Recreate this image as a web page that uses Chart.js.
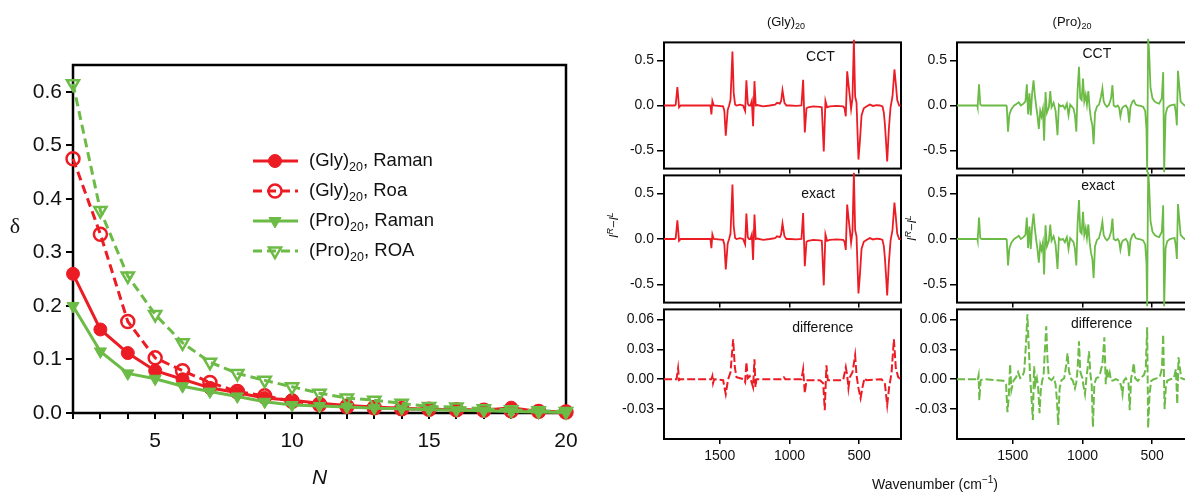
<!DOCTYPE html>
<html>
<head>
<meta charset="utf-8">
<script src="https://cdn.jsdelivr.net/npm/chart.js@4.4.0/dist/chart.umd.min.js"></script>
<style>
  html, body { margin: 0; padding: 0; background: #fff; }
  #page { position: relative; width: 1185px; height: 493px; overflow: hidden; font-family: "Liberation Sans", Arial, sans-serif; color: #111; }
  canvas { position: absolute; }
  .lbl { position: absolute; white-space: nowrap; line-height: 1; }
  .sub { font-size: 9px; vertical-align: -3px; }
</style>
</head>
<body>
<div id="page">
  <canvas id="main" style="left:0;top:0" width="600" height="493"></canvas>
  <canvas id="glyCct" style="left:595px;top:31px" width="320" height="149"></canvas>
  <canvas id="glyExact" style="left:595px;top:164px" width="320" height="150"></canvas>
  <canvas id="glyDiff" style="left:595px;top:298px" width="320" height="195"></canvas>
  <canvas id="proCct" style="left:888px;top:31px" width="320" height="149"></canvas>
  <canvas id="proExact" style="left:888px;top:164px" width="320" height="150"></canvas>
  <canvas id="proDiff" style="left:888px;top:298px" width="320" height="195"></canvas>

  <div class="lbl" style="left:786px;top:15px;transform:translateX(-50%);font-size:13px">(Gly)<span class="sub">20</span></div>
  <div class="lbl" style="left:1072px;top:15px;transform:translateX(-50%);font-size:13px">(Pro)<span class="sub">20</span></div>
  <div class="lbl" style="left:613px;top:225px;transform:translate(-50%,-50%) rotate(-90deg);font-size:12.5px;font-style:italic">I<sup style="font-size:9px">R</sup>&minus;I<sup style="font-size:9px">L</sup></div>
  <div class="lbl" style="left:911px;top:228px;transform:translate(-50%,-50%) rotate(-90deg);font-size:12.5px;font-style:italic">I<sup style="font-size:9px">R</sup>&minus;I<sup style="font-size:9px">L</sup></div>
  <div class="lbl" style="left:935px;top:475px;transform:translateX(-50%);font-size:14px">Wavenumber (cm<sup style="font-size:10px">&minus;1</sup>)</div>
</div>
<script>
// ---- left panel: convergence of delta with N ----
const nValues = [2, 3, 4, 5, 6, 7, 8, 9, 10, 11, 12, 13, 14, 15, 16, 17, 18, 19, 20];
const glyRaman = [0.26, 0.156, 0.112, 0.079, 0.063, 0.047, 0.038, 0.028, 0.024, 0.018, 0.014, 0.011, 0.009, 0.007, 0.006, 0.005, 0.01, 0.003, 0.002];
const glyRoa   = [0.475, 0.334, 0.171, 0.103, 0.079, 0.057, 0.04, 0.032, 0.022, 0.016, 0.012, 0.01, 0.008, 0.007, 0.006, 0.005, 0.004, 0.003, 0.002];
const proRaman = [0.2, 0.115, 0.074, 0.064, 0.05, 0.04, 0.031, 0.021, 0.015, 0.013, 0.011, 0.009, 0.008, 0.006, 0.005, 0.004, 0.003, 0.002, 0.001];
const proRoa   = [0.615, 0.378, 0.256, 0.184, 0.131, 0.095, 0.074, 0.061, 0.049, 0.037, 0.028, 0.024, 0.018, 0.012, 0.011, 0.008, 0.006, 0.004, 0.003];
const yTicksMain = [0, 0.1, 0.2, 0.3, 0.4, 0.5, 0.6];
const xLabelsMain = [5, 10, 15, 20];

// ---- right panels: spectra as [wavenumber, IR-IL] ----
const wnTicks = [1500, 1000, 500];
const bigTicks = [-0.5, 0, 0.5];
const diffTicks = [-0.03, 0, 0.03, 0.06];

const glyCct = [[1900,0],[1823,0],[1816,0.01],[1804,0.205],[1792,-0.02],[1780,0],[1567,0],[1560,-0.1],[1553,0.05],[1543,0],
  [1476,-0.01],[1467,-0.06],[1457,-0.335],[1443,-0.05],[1433,0],[1423,0.06],[1409,0.6],[1400,0.14],[1390,0.01],[1380,0],
  [1356,0.01],[1333,0],[1318,-0.06],[1309,0.28],[1299,0.02],[1290,0],[1280,0],[1270,0.05],[1261,-0.23],[1251,0.27],
  [1242,0],[1232,0.005],[1189,-0.01],[1141,0],[1103,0.01],[1089,0.03],[1069,0.02],[1060,0.05],[1050,0.17],[1036,0.03],
  [1022,0],[998,0],[950,-0.005],[914,0],[902,0.285],[890,-0.3],[878,-0.03],[866,-0.02],[830,-0.01],[782,-0.015],
  [768,-0.02],[754,-0.51],[742,0.05],[730,-0.02],[711,-0.01],[663,-0.005],[615,-0.01],[605,-0.03],[596,-0.12],[586,0.38],
  [577,0.24],[567,0.1],[558,-0.04],[548,0.08],[538,0.73],[529,0.1],[519,0.03],[512,-0.29],[505,-0.6],[495,-0.4],
  [483,-0.11],[467,-0.03],[448,-0.01],[424,0.01],[400,-0.005],[376,0.005],[352,0],[333,-0.01],[323,-0.08],[316,-0.2],
  [309,-0.36],[299,-0.62],[287,-0.26],[275,-0.02],[261,0.1],[247,0.4],[237,0.24],[227,0.06],[213,0],[203,0]];
const glyExact = glyCct; // visually identical to CCT
const glyDiff = [[1900,0],[1810,0],[1799,0.011],[1792,-0.001],[1780,0],[1560,0],[1553,0.003],[1548,-0.004],[1540,0],
  [1476,-0.001],[1457,-0.015],[1440,0],[1423,0.007],[1404,0.04],[1392,0.012],[1380,0.002],[1330,0],[1318,-0.003],
  [1309,0.017],[1299,0.001],[1285,0.003],[1261,-0.008],[1251,0.02],[1244,-0.008],[1237,0],[1060,0],[1041,0.002],[1030,0],
  [914,0],[902,0.01],[890,-0.014],[878,-0.001],[782,-0.001],[758,-0.004],[747,-0.031],[735,0.014],[725,-0.001],
  [615,-0.001],[596,0.012],[586,0.004],[577,-0.009],[567,0.002],[548,0.007],[529,0.024],[519,0.004],[505,-0.009],
  [490,-0.019],[476,-0.008],[462,0.001],[448,-0.001],[340,0],[316,-0.004],[299,-0.026],[285,-0.008],[268,0.006],
  [251,0.04],[237,0.011],[220,0.002],[203,0]];
const proCct = [[1900,0],[1754,0],[1752,-0.015],[1742,0.236],[1733,0.01],[1723,0],[1548,0],[1543,-0.015],[1534,-0.29],
  [1524,-0.1],[1510,-0.04],[1490,0],[1471,0.02],[1457,0.035],[1442,0],[1423,0.02],[1409,0.046],[1399,0.236],[1390,-0.1],
  [1380,0.136],[1371,-0.11],[1361,0.136],[1351,0.28],[1342,0.12],[1332,-0.01],[1323,-0.11],[1313,-0.26],[1303,-0.06],
  [1294,-0.12],[1284,-0.04],[1275,-0.39],[1265,0.15],[1255,-0.08],[1241,-0.02],[1231,0.16],[1222,-0.02],[1207,0.03],
  [1193,-0.06],[1179,-0.33],[1169,0.01],[1155,-0.01],[1140,0],[1126,-0.035],[1112,0.02],[1100,-0.11],[1088,0.01],
  [1064,-0.035],[1054,-0.11],[1044,-0.29],[1035,0.17],[1025,0.43],[1016,0.08],[1006,0.06],[996,0.3],[987,0.046],
  [977,0.12],[968,0.01],[958,0.16],[948,-0.04],[939,-0.15],[929,-0.22],[920,-0.43],[910,-0.08],[896,-0.01],[881,0.01],
  [867,0.1],[857,0.19],[848,0.046],[838,0.01],[824,-0.015],[809,0.01],[795,0.08],[785,0.225],[776,0],[761,-0.015],
  [747,0],[737,-0.025],[728,-0.12],[718,-0.04],[709,-0.015],[689,0],[675,-0.035],[665,-0.19],[656,-0.015],[641,0.046],
  [632,0.057],[618,0.01],[603,0],[584,-0.005],[565,-0.015],[550,-0.06],[541,-0.26],[536,-0.74],[529,0.74],[522,0.6],
  [512,0.2],[498,0.08],[483,0.046],[469,0.03],[450,0.02],[431,0.08],[421,0.37],[414,-0.74],[404,-0.1],[392,-0.025],
  [373,0],[354,0.007],[339,0.01],[330,-0.08],[323,-0.22],[315,0.385],[306,0.225],[296,0.046],[282,0.02],[267,0],
  [230,0],[200,0]];
const proExact = proCct; // visually identical to CCT
const proDiff = [[1900,0],[1760,0],[1754,-0.0016],[1745,0.004],[1740,-0.021],[1730,-0.001],[1710,0],[1567,-0.0016],
  [1548,-0.005],[1538,-0.033],[1529,-0.018],[1519,0.015],[1510,-0.011],[1495,-0.0016],[1476,0.002],[1462,0.007],
  [1447,0.001],[1433,0.002],[1418,0.008],[1404,0.038],[1395,0.065],[1385,0.031],[1375,0.0016],[1366,-0.018],
  [1356,-0.041],[1347,0.013],[1337,-0.005],[1327,0.001],[1318,-0.008],[1308,-0.034],[1299,-0.011],[1289,-0.0016],
  [1279,0.004],[1270,0.028],[1260,0.053],[1251,0.02],[1241,0.001],[1222,-0.001],[1207,0.0016],[1193,-0.005],
  [1183,-0.021],[1174,-0.046],[1164,-0.009],[1150,-0.001],[1131,0.001],[1116,0.015],[1107,0.026],[1097,0.008],
  [1083,0.001],[1069,-0.0016],[1054,-0.009],[1044,-0.003],[1035,0.01],[1025,0.038],[1016,0.008],[1001,0.001],
  [992,-0.0075],[982,-0.015],[972,0.001],[963,0.011],[953,0.028],[944,0.0066],[934,-0.005],[925,-0.048],[915,-0.005],
  [901,0.001],[886,0.002],[872,0.0066],[857,0.015],[843,0.042],[833,-0.005],[824,0.01],[814,0.0016],[805,0.0066],
  [795,-0.0016],[776,-0.001],[761,0],[737,-0.0016],[723,-0.0066],[713,-0.015],[704,-0.0016],[689,0.001],[670,-0.0033],
  [661,-0.031],[651,0.001],[641,0.0075],[632,0.016],[622,0.001],[603,-0.0016],[579,0.0016],[560,0.004],[546,0.01],
  [536,0.052],[529,-0.049],[519,-0.015],[507,-0.0016],[488,0],[464,0.001],[445,0.0023],[430,0.011],[421,0.045],
  [411,-0.03],[402,-0.008],[392,-0.0016],[368,0],[344,0.001],[330,0.01],[320,-0.025],[311,0.022],[301,0.011],
  [291,0.001],[272,0],[200,0]];

const RED = "#ec1c24";
const GREEN = "#6cbb46";
const FONT = '"Liberation Sans", Arial, sans-serif';

const legendRows = [
  { name: ["(Gly)", "20", ", Raman"], color: RED, dash: [], style: "circle", fill: true },
  { name: ["(Gly)", "20", ", Roa"], color: RED, dash: [9, 5], style: "circle", fill: false },
  { name: ["(Pro)", "20", ", Raman"], color: GREEN, dash: [], style: "triangle", fill: true },
  { name: ["(Pro)", "20", ", ROA"], color: GREEN, dash: [9, 5], style: "triangle", fill: false },
];

function series(vals, row, order) {
  return {
    data: nValues.map((n, i) => ({ x: n, y: vals[i] })),
    borderColor: row.color,
    borderWidth: 3,
    borderDash: row.dash,
    backgroundColor: row.fill ? row.color : "rgba(0,0,0,0)",
    pointStyle: row.style,
    pointRotation: row.style === "triangle" ? 180 : 0,
    pointRadius: row.style === "triangle" ? 7 : 6.5,
    pointBorderWidth: row.fill ? 1 : 2.5,
    pointBackgroundColor: row.fill ? row.color : "rgba(0,0,0,0)",
    tension: 0,
    clip: false,
    order: order,
  };
}

// box, axis titles and legend with subscripts
const mainDeco = {
  id: "mainDeco",
  beforeDatasetsDraw(chart) {
    const { ctx, chartArea: a } = chart;
    ctx.save();
    ctx.strokeStyle = "#000";
    ctx.lineWidth = 2.5;
    ctx.strokeRect(a.left, a.top, a.right - a.left, a.bottom - a.top);
    ctx.restore();
  },
  afterDatasetsDraw(chart) {
    const { ctx, chartArea: a } = chart;
    ctx.save();
    ctx.fillStyle = "#111";
    ctx.textBaseline = "middle";
    ctx.textAlign = "center";
    ctx.font = "italic 21px " + FONT;
    ctx.fillText("N", (a.left + a.right) / 2, a.bottom + 65);
    ctx.font = '22px "Liberation Serif", serif';
    ctx.fillText("\u03b4", 15, a.top + 162);

    ctx.textAlign = "left";
    legendRows.forEach((r, i) => {
      const y = a.top + 96 + i * 30;
      const x0 = a.left + 180;
      ctx.strokeStyle = r.color;
      ctx.lineWidth = 3;
      ctx.setLineDash(r.dash);
      ctx.beginPath();
      ctx.moveTo(x0, y);
      ctx.lineTo(x0 + 45, y);
      ctx.stroke();
      ctx.setLineDash([]);
      ctx.fillStyle = r.fill ? r.color : "rgba(0,0,0,0)";
      ctx.lineWidth = r.fill ? 1 : 2.5;
      Chart.helpers.drawPoint(ctx, {
        pointStyle: r.style,
        rotation: r.style === "triangle" ? 180 : 0,
        radius: r.style === "triangle" ? 7 : 6.5,
        borderWidth: ctx.lineWidth,
      }, x0 + 22, y);

      let tx = a.left + 236;
      ctx.fillStyle = "#111";
      ctx.font = "18.5px " + FONT;
      ctx.fillText(r.name[0], tx, y);
      tx += ctx.measureText(r.name[0]).width;
      ctx.font = "12.5px " + FONT;
      ctx.fillText(r.name[1], tx, y + 7);
      tx += ctx.measureText(r.name[1]).width;
      ctx.font = "18.5px " + FONT;
      ctx.fillText(r.name[2], tx, y);
    });
    ctx.restore();
  },
};

new Chart(document.getElementById("main"), {
  type: "line",
  data: {
    datasets: [
      series(glyRaman, legendRows[0], 2),
      series(glyRoa, legendRows[1], 3),
      series(proRaman, legendRows[2], 0),
      series(proRoa, legendRows[3], 1),
    ],
  },
  options: {
    responsive: false,
    animation: false,
    events: [],
    layout: { padding: { top: 65, right: 34, left: 0, bottom: 0 } },
    plugins: { legend: { display: false }, tooltip: { enabled: false } },
    scales: {
      x: {
        type: "linear",
        min: 2,
        max: 20,
        afterBuildTicks: (s) => { s.ticks = nValues.map((v) => ({ value: v })); },
        ticks: {
          autoSkip: false,
          maxRotation: 0,
          padding: 10,
          color: "#111",
          font: { size: 21, family: FONT },
          callback: (v) => (xLabelsMain.includes(v) ? String(v) : ""),
        },
        grid: { drawOnChartArea: false, color: "#000", lineWidth: 2, tickLength: 6 },
        border: { display: false },
        afterFit: (s) => { s.height = 80; },
      },
      y: {
        min: 0,
        max: 0.65,
        afterBuildTicks: (s) => { s.ticks = yTicksMain.map((v) => ({ value: v })); },
        ticks: {
          padding: 4,
          color: "#111",
          font: { size: 21, family: FONT },
          callback: (v) => v.toFixed(1),
        },
        grid: { drawOnChartArea: false, color: "#000", lineWidth: 2, tickLength: 7 },
        border: { display: false },
        afterFit: (s) => { s.width = 73; },
      },
    },
  },
  plugins: [mainDeco],
});

// ---- spectrum panels ----
const panelDeco = {
  id: "panelDeco",
  beforeDatasetsDraw(chart, args, o) {
    const { ctx, chartArea: a } = chart;
    ctx.save();
    ctx.strokeStyle = "#000";
    ctx.lineWidth = 2;
    ctx.strokeRect(a.left, a.top, a.right - a.left, a.bottom - a.top);
    ctx.fillStyle = "#111";
    ctx.font = "14px " + FONT;
    ctx.textAlign = "center";
    ctx.textBaseline = "middle";
    ctx.fillText(o.text, a.left + o.fx * (a.right - a.left), a.top + o.dy);
    ctx.restore();
  },
};

function panel(id, points, o) {
  new Chart(document.getElementById(id), {
    type: "line",
    data: {
      datasets: [{
        data: points.map((p) => ({ x: p[0], y: p[1] })),
        borderColor: o.color,
        borderWidth: o.lw,
        borderDash: o.dash || [],
        pointRadius: 0,
        tension: 0,
        clip: 5,
      }],
    },
    options: {
      responsive: false,
      animation: false,
      events: [],
      layout: { padding: { top: 10, right: 14, left: 0, bottom: 0 } },
      plugins: {
        legend: { display: false },
        tooltip: { enabled: false },
        panelDeco: { text: o.text, fx: o.fx, dy: o.dy },
      },
      scales: {
        x: {
          type: "linear",
          reverse: true,
          min: 200,
          max: 1900,
          afterBuildTicks: (s) => { s.ticks = wnTicks.map((v) => ({ value: v })); },
          ticks: {
            autoSkip: false,
            maxRotation: 0,
            padding: 4,
            color: "#111",
            font: { size: 14, family: FONT },
            callback: (v) => (o.xLabels ? String(v) : ""),
          },
          grid: { drawOnChartArea: false, color: "#000", lineWidth: 1.5, tickLength: 5 },
          border: { display: false },
          afterFit: (s) => { s.height = o.xh; },
        },
        y: {
          min: o.min,
          max: o.max,
          afterBuildTicks: (s) => { s.ticks = o.ticks.map((v) => ({ value: v })); },
          ticks: {
            padding: 3,
            color: "#111",
            font: { size: 14, family: FONT },
            callback: (v) => v.toFixed(o.dec),
          },
          grid: { drawOnChartArea: false, color: "#000", lineWidth: 1.5, tickLength: 7 },
          border: { display: false },
          afterFit: (s) => { s.width = 69; },
        },
      },
    },
    plugins: [panelDeco],
  });
}

const bigRange = { min: -0.7, max: 0.7, ticks: bigTicks, dec: 1, xh: 10, xLabels: false, lw: 1.8 };
const diffRange = { min: -0.06, max: 0.07, ticks: diffTicks, dec: 2, xh: 54, xLabels: true, dash: [8, 3], lw: 2 };

panel("glyCct", glyCct, Object.assign({}, bigRange, { color: RED, text: "CCT", fx: 0.66, dy: 15 }));
panel("glyExact", glyExact, Object.assign({}, bigRange, { color: RED, text: "exact", fx: 0.65, dy: 19 }));
panel("glyDiff", glyDiff, Object.assign({}, diffRange, { color: RED, text: "difference", fx: 0.67, dy: 19 }));
panel("proCct", proCct, Object.assign({}, bigRange, { color: GREEN, text: "CCT", fx: 0.59, dy: 12 }));
panel("proExact", proExact, Object.assign({}, bigRange, { color: GREEN, text: "exact", fx: 0.595, dy: 11 }));
panel("proDiff", proDiff, Object.assign({}, diffRange, { color: GREEN, text: "difference", fx: 0.61, dy: 15 }));
</script>
</body>
</html>
